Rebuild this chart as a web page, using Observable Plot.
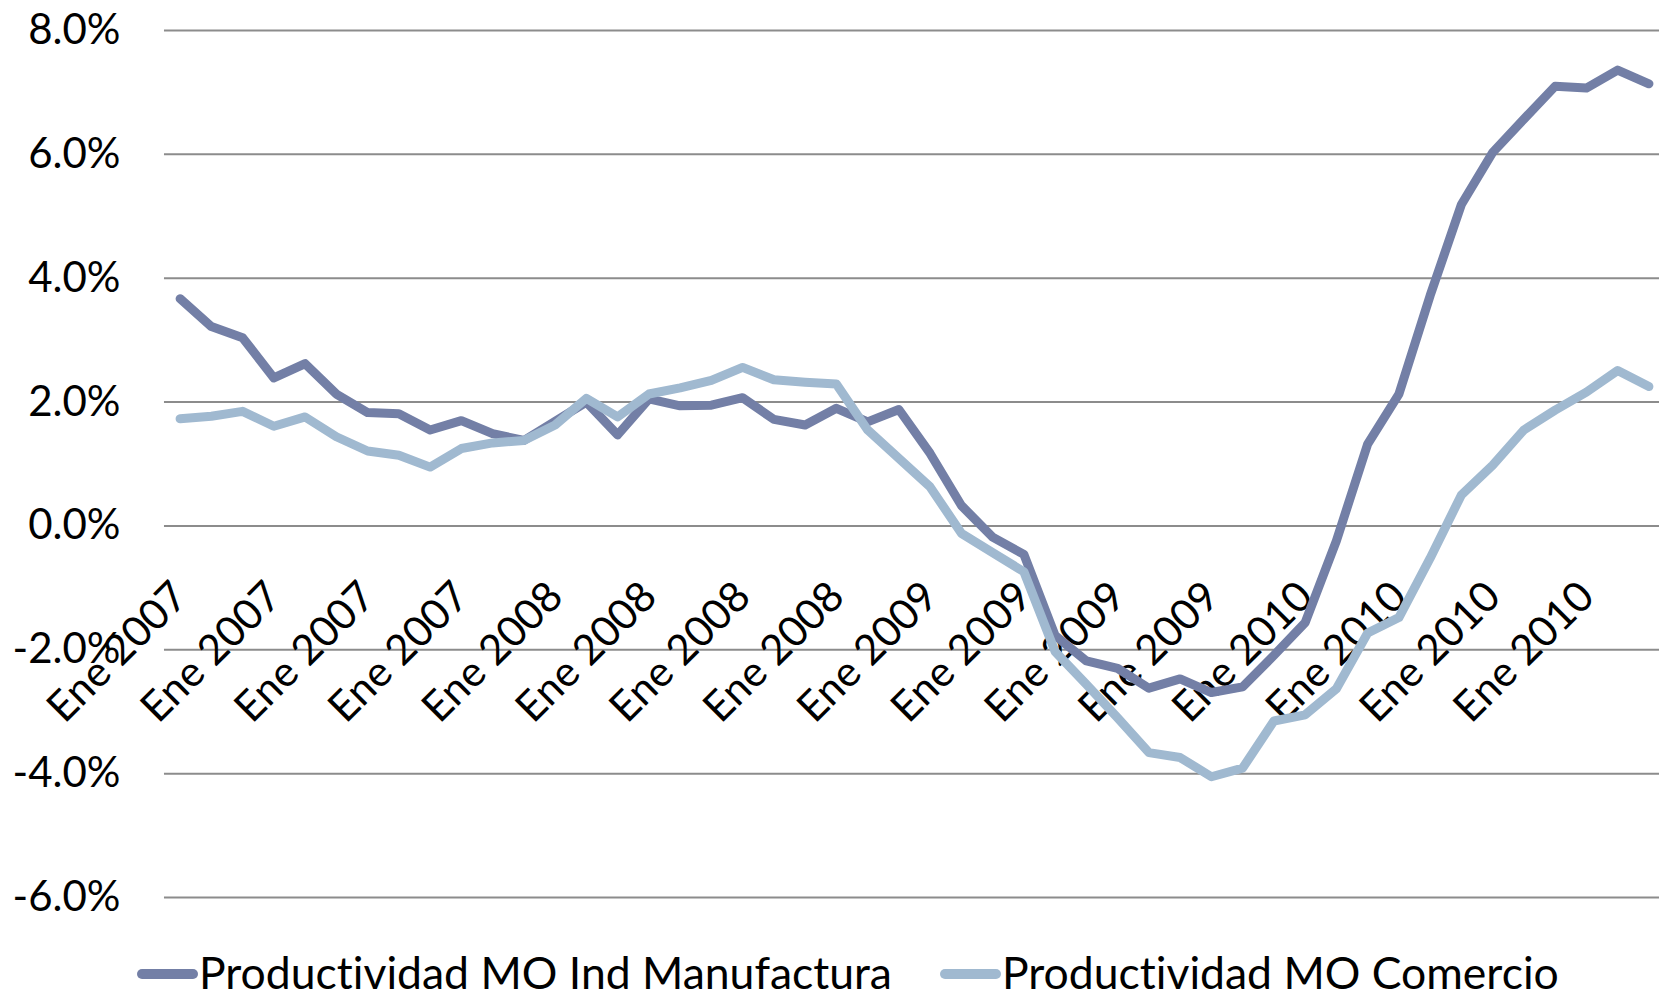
<!DOCTYPE html>
<html>
<head>
<meta charset="utf-8">
<script src="https://cdn.jsdelivr.net/npm/d3@7"></script>
<script src="https://cdn.jsdelivr.net/npm/@observablehq/plot@0.6"></script>
<style>
  html, body { margin: 0; padding: 0; background: #fff; overflow: hidden; }
  #wrap { position: relative; width: 1659px; height: 995px; font-family: Lato, "Open Sans", sans-serif; font-variant-ligatures: none; }
  #legend { position: absolute; left: 0; top: 935px; width: 1659px; height: 60px; }
  .item { position: absolute; top: 11px; display: flex; align-items: center; font-size: 44.5px; line-height: 52px; color: #000; white-space: nowrap; }
  .sw { width: 61px; height: 10px; border-radius: 5px; margin-right: 1px; margin-top: 4px; }
</style>
</head>
<body>
<div id="wrap">
  <div id="chart"></div>
  <div id="legend"></div>
</div>
<script>
// Data (monthly, Jan 2007 – Dec 2010), values in %
const seriesNames = ["Productividad MO Ind Manufactura", "Productividad MO Comercio"];
const seriesColors = ["#737fa6", "#a0b9d0"];

const manufactura = [
  3.67, 3.22, 3.04, 2.39, 2.62, 2.13, 1.83, 1.81, 1.55, 1.70, 1.49, 1.38,
  1.69, 2.00, 1.47, 2.05, 1.94, 1.95, 2.07, 1.72, 1.63, 1.90, 1.68, 1.88,
  1.17, 0.33, -0.18, -0.46, -1.77, -2.18, -2.30, -2.62, -2.47, -2.69, -2.60, -2.09,
  -1.56, -0.24, 1.32, 2.13, 3.72, 5.19, 6.03, 6.57, 7.10, 7.07, 7.36, 7.14
];
const comercio = [
  1.73, 1.77, 1.85, 1.61, 1.76, 1.44, 1.21, 1.14, 0.95, 1.25, 1.34, 1.38,
  1.63, 2.06, 1.76, 2.13, 2.23, 2.35, 2.56, 2.36, 2.32, 2.29, 1.55, 1.09,
  0.63, -0.12, -0.43, -0.74, -2.03, -2.56, -3.10, -3.66, -3.74, -4.05, -3.91, -3.15,
  -3.05, -2.63, -1.73, -1.48, -0.52, 0.50, 0.98, 1.55, 1.87, 2.16, 2.51, 2.25
];

// Category tick labels (every third month)
const xLabelIndex = [0, 3, 6, 9, 12, 15, 18, 21, 24, 27, 30, 33, 36, 39, 42, 45];
const xLabelText = [
  "Ene 2007", "Ene 2007", "Ene 2007", "Ene 2007",
  "Ene 2008", "Ene 2008", "Ene 2008", "Ene 2008",
  "Ene 2009", "Ene 2009", "Ene 2009", "Ene 2009",
  "Ene 2010", "Ene 2010", "Ene 2010", "Ene 2010"
];
const yTicks = [-6, -4, -2, 0, 2, 4, 6, 8];

const rows = [];
manufactura.forEach((v, i) => rows.push({i, v, s: seriesNames[0]}));
comercio.forEach((v, i) => rows.push({i, v, s: seriesNames[1]}));
const labels = xLabelIndex.map((i, k) => ({i, t: xLabelText[k]}));

const font = "Lato, 'Open Sans', sans-serif";

const chart = Plot.plot({
  width: 1659,
  height: 935,
  marginTop: 30,
  marginBottom: 38,
  marginLeft: 164,
  marginRight: 0,
  style: {fontFamily: font, fontSize: "42px", color: "#000", background: "#fff", fontVariantLigatures: "none"},
  x: {domain: [0, 47], range: [179.6, 1648.4], axis: null},
  y: {domain: [-6, 8], axis: null},
  color: {domain: seriesNames, range: seriesColors},
  marks: [
    Plot.ruleY(yTicks, {y: d => d, x1: -0.5, x2: 47.5, stroke: "#8c8c8c", strokeWidth: 2}),
    Plot.text(yTicks, {
      y: d => d, x: -0.5, text: d => d.toFixed(1) + "%",
      textAnchor: "end", dx: -44, fill: "#000", fontSize: 42
    }),
    Plot.text(labels, {
      x: "i", y: 0, text: "t", rotate: -45, textAnchor: "end", lineAnchor: "bottom",
      dx: 10, dy: 73, fill: "#000", fontSize: 42
    }),
    Plot.line(rows, {
      x: "i", y: "v", z: "s", stroke: "s", strokeWidth: 9,
      strokeLinejoin: "round", strokeLinecap: "round"
    })
  ]
});
document.getElementById("chart").appendChild(chart);

// Legend
const legend = document.getElementById("legend");
const legendLeft = [137, 940];
seriesNames.forEach((name, k) => {
  const item = document.createElement("div");
  item.className = "item";
  item.style.left = legendLeft[k] + "px";
  const sw = document.createElement("span");
  sw.className = "sw";
  sw.style.background = seriesColors[k];
  const tx = document.createElement("span");
  tx.textContent = name;
  item.appendChild(sw);
  item.appendChild(tx);
  legend.appendChild(item);
});
</script>
</body>
</html>
